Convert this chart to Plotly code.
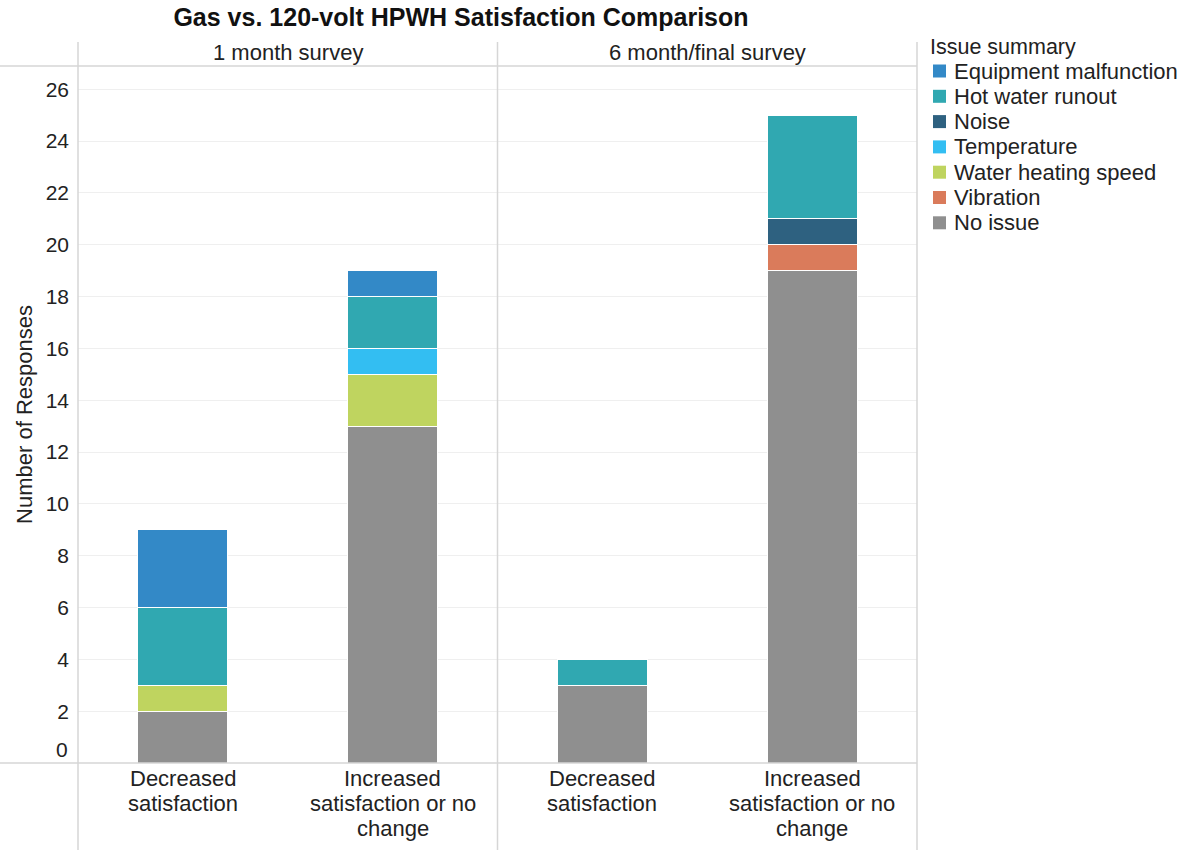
import plotly.graph_objects as go

# ---- data ----
facets = ["1 month survey", "6 month/final survey"]
categories = ["Decreased<br>satisfaction", "Increased<br>satisfaction or no<br>change"]
# stacking order bottom -> top
issues = ["No issue", "Vibration", "Water heating speed", "Temperature", "Noise",
          "Hot water runout", "Equipment malfunction"]
# legend order (top -> bottom)
legend_order = ["Equipment malfunction", "Hot water runout", "Noise", "Temperature",
                "Water heating speed", "Vibration", "No issue"]
colors = {
    "Equipment malfunction": "#3389C7",
    "Hot water runout": "#30A8B1",
    "Noise": "#2E6180",
    "Temperature": "#33BEF2",
    "Water heating speed": "#BFD45F",
    "Vibration": "#DA7B5B",
    "No issue": "#8F8F8F",
}
# values per facet: [Decreased, Increased]
month1 = {
    "No issue": [2, 13],
    "Vibration": [0, 0],
    "Water heating speed": [1, 2],
    "Temperature": [0, 1],
    "Noise": [0, 0],
    "Hot water runout": [3, 2],
    "Equipment malfunction": [3, 1],
}
month6 = {
    "No issue": [3, 19],
    "Vibration": [0, 1],
    "Water heating speed": [0, 0],
    "Temperature": [0, 0],
    "Noise": [0, 1],
    "Hot water runout": [1, 4],
    "Equipment malfunction": [0, 0],
}
y_ticks = [0, 2, 4, 6, 8, 10, 12, 14, 16, 18, 20, 22, 24, 26]

FONT = "Liberation Sans, Arial, sans-serif"
TXT = "#222222"
FS = 22

fig = go.Figure()
for issue in issues:
    for i, (data, xa) in enumerate([(month1, "x"), (month6, "x2")]):
        vals = [v if v else None for v in data[issue]]
        fig.add_trace(go.Bar(
            x=categories, y=vals, name=issue, xaxis=xa, yaxis="y",
            marker=dict(color=colors[issue], line=dict(color="white", width=1)),
            width=0.43, showlegend=False,
        ))

L, R, T, B = 78, 917, 66, 763
W, H = 1183, 850
pw, ph = R - L, B - T
def px(x): return (x - L) / pw
def py(y): return (B - y) / ph

axis_common = dict(showgrid=False, showline=False, zeroline=False, ticks="",
                   automargin=False, showticklabels=False, fixedrange=True)
fig.update_layout(
    width=W, height=H,
    margin=dict(l=L, r=W - R, t=T, b=H - B, autoexpand=False),
    barmode="stack",
    plot_bgcolor="white", paper_bgcolor="white",
    font=dict(family=FONT, color=TXT),
    xaxis=dict(domain=[0, 0.5], anchor="y", **axis_common),
    xaxis2=dict(domain=[0.5, 1], anchor="y", **axis_common),
    yaxis=dict(range=[0, 26.9], tickvals=y_ticks[1:], showgrid=True, automargin=False,
               gridcolor="#EFEFEF", gridwidth=1, zeroline=False, showline=False,
               ticks="", ticklabelstandoff=8,
               tickfont=dict(family=FONT, size=21, color=TXT),
               title=dict(text="Number of Responses", font=dict(family=FONT, size=FS, color=TXT),
                          standoff=6)),
    title=dict(text="<b>Gas vs. 120-volt HPWH Satisfaction Comparison</b>",
               x=(461) / W, xref="container", xanchor="center", y=1 - 17 / H, yanchor="middle",
               font=dict(family=FONT, size=25, color="#111111")),
    showlegend=False,
)

# category labels under each bar (tight line spacing as in the reference)
for xa in ("x", "x2"):
    for cat in categories:
        for j, line in enumerate(cat.split("<br>")):
            fig.add_annotation(x=cat, xref=xa, y=0, yref="y", text=line,
                               showarrow=False, xanchor="center", yanchor="middle",
                               yshift=-(15 + 25 * j),
                               font=dict(family=FONT, size=FS, color=TXT))

# "0" tick label shifted up as in the reference
fig.add_annotation(x=0, xref="paper", y=y_ticks[0], yref="y", text=str(y_ticks[0]),
                   showarrow=False, xanchor="right", xshift=-8, yshift=14,
                   font=dict(family=FONT, size=21, color=TXT))

# facet headers
for i, f in enumerate(facets):
    fig.add_annotation(x=0.25 + 0.5 * i, xref="paper", y=py(52), yref="paper", text=f,
                       showarrow=False, xanchor="center", yanchor="middle",
                       font=dict(family=FONT, size=FS, color=TXT))

line_col = "#D6D6D6"
shapes = []
# horizontal header line and baseline
for yy in (T, B):
    shapes.append(dict(type="line", xref="paper", yref="paper", x0=px(0), x1=1,
                       y0=py(yy), y1=py(yy), line=dict(color=line_col, width=1.5)))
# vertical dividers
for xx in (L, (L + R) / 2, R):
    shapes.append(dict(type="line", xref="paper", yref="paper", x0=px(xx), x1=px(xx),
                       y0=py(42), y1=py(H), line=dict(color=line_col, width=1.5)))

# legend (title + colour keys)
fig.add_annotation(x=px(928), xref="paper", y=py(47), yref="paper", text="Issue summary",
                   showarrow=False, xanchor="left", yanchor="middle",
                   font=dict(family=FONT, size=21.5, color=TXT))
for k, name in enumerate(legend_order):
    yc = 71 + 25.3 * k
    shapes.append(dict(type="rect", xref="paper", yref="paper",
                       x0=px(933), x1=px(946), y0=py(yc - 6.5), y1=py(yc + 6.5),
                       fillcolor=colors[name], line=dict(width=0)))
    fig.add_annotation(x=px(952), xref="paper", y=py(yc), yref="paper", text=name,
                       showarrow=False, xanchor="left", yanchor="middle",
                       font=dict(family=FONT, size=FS, color=TXT))
fig.update_layout(shapes=shapes)

fig.write_html("out.html")
